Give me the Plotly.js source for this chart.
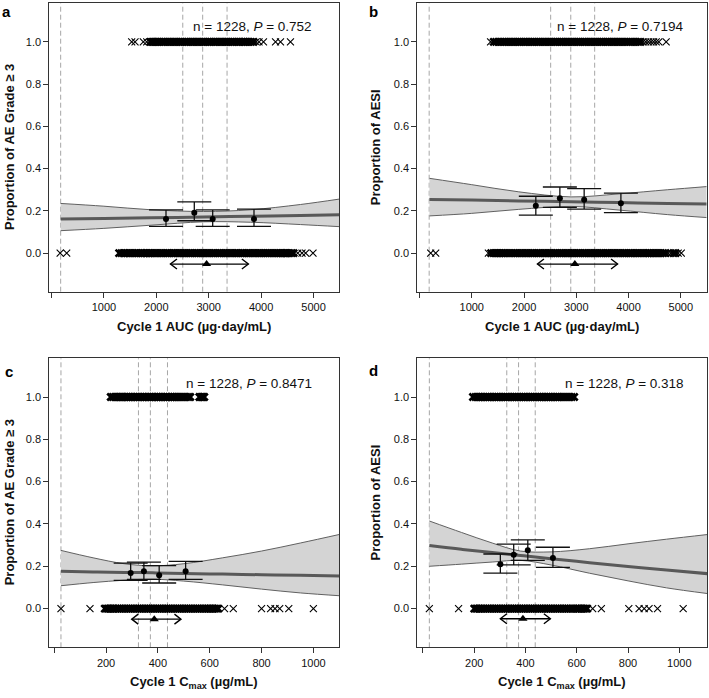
<!DOCTYPE html>
<html>
<head>
<meta charset="utf-8">
<script src="https://cdn.plot.ly/plotly-3.0.1.min.js"></script>
<style>html,body{margin:0;padding:0;background:#fff;}#chart{width:709px;height:698px;}</style>
</head>
<body>
<div id="chart"></div>
<script>
// ---------- tick labels ----------
const aucTicks = [1000, 2000, 3000, 4000, 5000];
const aucTickText = ['1000', '2000', '3000', '4000', '5000'];
const cmaxTicks = [200, 400, 600, 800, 1000];
const cmaxTickText = ['200', '400', '600', '800', '1000'];
const unlabelledTicks = [0];
const yTicks = [0, 0.2, 0.4, 0.6, 0.8, 1.0];

// ---------- panel a : AUC vs AE grade >= 3 ----------
const aEvent = [1530, 1594, 1752, 1817, 1885, 1912, 1940, 1965,
  1990, 2025, 2060, 2100, 2135, 2170, 2210, 2245, 2280, 2320, 2355, 2390, 2430, 2465, 2500, 2540, 2575, 2610,
  2650, 2685, 2720, 2760, 2795, 2830, 2870, 2905, 2940, 2980, 3015, 3050, 3090, 3125, 3160, 3200, 3235, 3270,
  3310, 3345, 3380, 3420, 3455, 3490, 3530, 3565, 3600, 3640, 3675, 3700,
  3735, 3770, 3810, 3855, 3905, 3960, 4045, 4275, 4370, 4560];
const aNoEvent = [165, 290, 1290, 1335, 1375, 1405, 1440, 1480, 1510, 1550, 1590, 1625, 1660, 1700, 1730, 1765, 1800, 1830, 1860,
  1885, 1920, 1960, 1995, 2030, 2070, 2105, 2140, 2180, 2215, 2250, 2290, 2325, 2360, 2400, 2435, 2470, 2510,
  2545, 2580, 2620, 2655, 2690, 2730, 2765, 2800, 2840, 2875, 2910, 2950, 2985, 3020, 3060, 3095, 3130, 3170,
  3205, 3240, 3280, 3315, 3350, 3390, 3425, 3460, 3500, 3535, 3570, 3610, 3645, 3680, 3720, 3755, 3790, 3830,
  3865, 3900, 3940, 3975, 4010, 4050, 4085, 4120, 4145,
  4185, 4225, 4265, 4300, 4335, 4370, 4400, 4425, 4450, 4475, 4500, 4540, 4580, 4620, 4700, 4780, 4850, 4990];
const aBinX = [2185, 2725, 3076, 3864];
const aBinP = [0.161, 0.191, 0.161, 0.161];
const aBinLo = [0.126, 0.153, 0.126, 0.126];
const aBinHi = [0.205, 0.242, 0.205, 0.208];
const aFitX = [175, 1000, 1900, 2900, 3800, 4750, 5500];
const aFit = [0.161, 0.164, 0.167, 0.171, 0.174, 0.178, 0.182];
const aFitHi = [0.235, 0.222, 0.205, 0.197, 0.205, 0.230, 0.256];
const aFitLo = [0.106, 0.117, 0.132, 0.148, 0.146, 0.135, 0.125];
const aQuantiles = [175, 2505, 2885, 3350];
const aMedian = 2960;
const aInterval = [2270, 3757];

// ---------- panel b : AUC vs AESI ----------
const bEvent = [1360, 1420, 1465, 1510, 1550, 1590, 1625, 1660, 1700, 1735, 1770, 1805, 1840, 1880, 1915, 1950, 1990, 2025, 2060, 2095,
  2130, 2165, 2200, 2240, 2275, 2310, 2350, 2385, 2420, 2460, 2495, 2530, 2570, 2605, 2640, 2680, 2715, 2750,
  2790, 2825, 2860, 2900, 2935, 2970, 3010, 3045, 3080, 3120, 3155, 3190, 3230, 3265, 3300, 3340, 3375, 3410,
  3450, 3485, 3520, 3560, 3595, 3630, 3670, 3705, 3740, 3780, 3815, 3850,
  3890, 3930, 3975, 4020, 4060, 4100, 4145, 4190, 4230, 4280, 4330, 4380, 4430, 4480, 4530, 4580, 4720];
const bNoEvent = [214, 310, 1318, 1370, 1415, 1450, 1480, 1510, 1540, 1570, 1605, 1640, 1680, 1720, 1760,
  1800, 1835, 1870, 1910, 1945, 1980, 2020, 2055, 2090, 2130, 2165, 2200, 2240, 2275, 2310, 2350, 2385, 2420,
  2460, 2495, 2530, 2570, 2605, 2640, 2680, 2715, 2750, 2790, 2825, 2860, 2900, 2935, 2970, 3010, 3045, 3080,
  3120, 3155, 3190, 3230, 3265, 3300, 3340, 3375, 3410, 3450, 3485, 3520, 3560, 3595, 3630, 3670, 3705, 3740,
  3780, 3815, 3850, 3890, 3925, 3960, 4000, 4035, 4070, 4110, 4145, 4175,
  4210, 4250, 4290, 4330, 4370, 4400, 4430, 4465, 4500, 4540, 4580, 4620, 4665, 4710, 4760, 4810, 4860, 4900, 4950, 5010];
const bBinX = [2226, 2686, 3151, 3854];
const bBinP = [0.224, 0.260, 0.252, 0.236];
const bBinLo = [0.180, 0.216, 0.208, 0.192];
const bBinHi = [0.269, 0.313, 0.305, 0.284];
const bFitX = [190, 1000, 1900, 2900, 3800, 4750, 5500];
const bFit = [0.254, 0.251, 0.247, 0.243, 0.239, 0.235, 0.232];
const bFitHi = [0.354, 0.324, 0.290, 0.266, 0.280, 0.300, 0.315];
const bFitLo = [0.176, 0.188, 0.207, 0.221, 0.204, 0.182, 0.168];
const bQuantiles = [185, 2510, 2895, 3352];
const bMedian = 2973;
const bInterval = [2257, 3790];

// ---------- panel c : Cmax vs AE grade >= 3 ----------
const cEvent = [218, 226, 234, 242, 250, 256,
  260, 266, 273, 280, 287, 294, 300, 307, 314, 321, 328, 334, 341, 348, 355, 362, 368, 375, 382, 389, 396,
  402, 409, 416, 423, 430, 436, 443, 450, 456,
  463, 470, 478, 486, 494, 502, 510, 518, 525, 560, 565, 570, 575, 579];
const cNoEvent = [26, 138, 195, 202, 208, 214, 220, 226,
  231, 238, 245, 252, 259, 266, 273, 280, 287, 294, 301, 308, 315, 322, 329, 336, 343, 350, 357, 364, 371,
  378, 385, 392, 399, 406, 413, 420, 427, 434, 441, 448, 455, 462, 469, 476, 483, 490, 497, 504, 511, 518,
  525, 532, 539, 546, 553, 560, 567, 574, 581, 588, 595,
  601, 607, 613, 619, 626, 633, 657, 691, 800, 835, 852, 870, 905, 1000];
const cBinX = [295, 346, 405, 507];
const cBinP = [0.168, 0.176, 0.157, 0.176];
const cBinLo = [0.133, 0.138, 0.121, 0.138];
const cBinHi = [0.215, 0.220, 0.203, 0.223];
const cFitX = [26, 150, 270, 380, 500, 650, 800, 950, 1110];
const cFit = [0.176, 0.173, 0.171, 0.169, 0.166, 0.163, 0.160, 0.157, 0.154];
const cFitHi = [0.275, 0.240, 0.212, 0.202, 0.212, 0.240, 0.272, 0.310, 0.353];
const cFitLo = [0.108, 0.123, 0.134, 0.139, 0.130, 0.112, 0.092, 0.074, 0.060];
const cQuantiles = [26, 325, 371, 437];
const cMedian = 386;
const cInterval = [299, 489];

// ---------- panel d : Cmax vs AESI ----------
const dEvent = [195, 205, 212, 218, 224, 231, 238, 245,
  252, 259, 266, 273, 280, 287, 294, 301, 308, 315, 322, 329, 336, 343, 350, 357, 364, 371, 378, 385, 392,
  399, 406, 413, 420, 427, 434, 441, 448, 455, 462, 469, 476, 483, 490, 497, 504, 511, 518, 525,
  532, 540, 548, 556, 564, 572, 580, 590];
const dNoEvent = [25, 139, 200, 206, 212, 218, 224,
  231, 238, 245, 252, 259, 266, 273, 280, 287, 294, 301, 308, 315, 322, 329, 336, 343, 350, 357, 364, 371,
  378, 385, 392, 399, 406, 413, 420, 427, 434, 441, 448, 455, 462, 469, 476, 483, 490, 497, 504, 511, 518,
  525, 532, 539, 546, 553, 560, 567, 574, 581, 588, 597,
  604, 610, 616, 622, 628, 634, 641, 662, 696, 803, 843, 863, 882, 915, 1015];
const dBinX = [302, 354, 409, 507];
const dBinP = [0.210, 0.254, 0.276, 0.239];
const dBinLo = [0.168, 0.207, 0.228, 0.195];
const dBinHi = [0.258, 0.305, 0.325, 0.290];
const dFitX = [25, 150, 270, 380, 500, 650, 800, 950, 1110];
const dFit = [0.298, 0.280, 0.265, 0.251, 0.236, 0.217, 0.199, 0.182, 0.165];
const dFitHi = [0.414, 0.360, 0.310, 0.272, 0.268, 0.283, 0.306, 0.328, 0.350];
const dFitLo = [0.200, 0.210, 0.220, 0.228, 0.206, 0.167, 0.131, 0.098, 0.071];
const dQuantiles = [25, 327, 373, 438];
const dMedian = 390;
const dInterval = [302, 497];

// ---------- texts ----------
const panelLetters = ['a', 'b', 'c', 'd'];
const statTexts = ['n = 1228, <i>P</i> = 0.752', 'n = 1228, <i>P</i> = 0.7194',
                   'n = 1228, <i>P</i> = 0.8471', 'n = 1228, <i>P</i> = 0.318'];
const yTitles = ['Proportion of AE Grade \u2265 3', 'Proportion of AESI',
                 'Proportion of AE Grade \u2265 3', 'Proportion of AESI'];
const xTitles = ['Cycle 1 AUC (\u00b5g\u00b7day/mL)', 'Cycle 1 AUC (\u00b5g\u00b7day/mL)',
                 'Cycle 1 C<sub>max</sub> (\u00b5g/mL)', 'Cycle 1 C<sub>max</sub> (\u00b5g/mL)'];

// ---------- layout geometry ----------
const W = 709, H = 698;
const FONT = 'Liberation Sans, Arial, Helvetica, sans-serif';
const boxes = [ // [left, right, top, bottom] in px
  [49.3, 339.3, 3.3, 291.7],
  [417.3, 706.5, 3.3, 291.7],
  [49.3, 339.3, 358.3, 647.3],
  [417.3, 707.0, 358.3, 647.3]
];
const xRanges = [[-42, 5492], [-42, 5492], [-19, 1100], [-22, 1108]];
const yRange = [-0.183, 1.183];

const panels = [
  {ev: aEvent, ne: aNoEvent, bx: aBinX, bp: aBinP, blo: aBinLo, bhi: aBinHi, fx: aFitX, f: aFit, fhi: aFitHi, flo: aFitLo, q: aQuantiles, med: aMedian, iv: aInterval, ay: -0.052, ticks: aucTicks, tt: aucTickText},
  {ev: bEvent, ne: bNoEvent, bx: bBinX, bp: bBinP, blo: bBinLo, bhi: bBinHi, fx: bFitX, f: bFit, fhi: bFitHi, flo: bFitLo, q: bQuantiles, med: bMedian, iv: bInterval, ay: -0.052, ticks: aucTicks, tt: aucTickText},
  {ev: cEvent, ne: cNoEvent, bx: cBinX, bp: cBinP, blo: cBinLo, bhi: cBinHi, fx: cFitX, f: cFit, fhi: cFitHi, flo: cFitLo, q: cQuantiles, med: cMedian, iv: cInterval, ay: -0.05, ticks: cmaxTicks, tt: cmaxTickText},
  {ev: dEvent, ne: dNoEvent, bx: dBinX, bp: dBinP, blo: dBinLo, bhi: dBinHi, fx: dFitX, f: dFit, fhi: dFitHi, flo: dFitLo, q: dQuantiles, med: dMedian, iv: dInterval, ay: -0.048, ticks: cmaxTicks, tt: cmaxTickText}
];

const traces = [];
const shapes = [];
const annotations = [];
const layout = {
  width: W, height: H,
  margin: {l: 0, r: 0, t: 0, b: 0},
  paper_bgcolor: '#ffffff', plot_bgcolor: '#ffffff',
  showlegend: false,
  font: {family: FONT, size: 11, color: '#111'}
};

// stroke widths: where crosses overlap densely they merge into a solid bar
function strokeWidths(xs, pxPerUnit) {
  return xs.map((v, j) => {
    const gaps = [];
    if (j > 0) gaps.push(Math.abs(v - xs[j - 1]) * pxPerUnit);
    if (j < xs.length - 1) gaps.push(Math.abs(xs[j + 1] - v) * pxPerUnit);
    const g = Math.min.apply(null, gaps);
    return g < 2.6 ? 2.6 : 1.1;
  });
}

panels.forEach((p, i) => {
  const k = i === 0 ? '' : String(i + 1);
  const xa = 'x' + k, ya = 'y' + k;
  const [L, R, T, B] = boxes[i];
  const ppu = (R - L) / (xRanges[i][1] - xRanges[i][0]);
  layout['xaxis' + k] = {
    domain: [L / W, R / W], range: xRanges[i], anchor: ya,
    showline: true, mirror: true, linecolor: '#333', linewidth: 1,
    ticks: 'outside', ticklen: 5, tickcolor: '#333', tickwidth: 1,
    tickvals: p.ticks, ticktext: p.tt, tickfont: {family: FONT, size: 11, color: '#111'},
    minor: {tickvals: unlabelledTicks, ticks: 'outside', ticklen: 5, tickcolor: '#333', tickwidth: 1, showgrid: false},
    showgrid: false, zeroline: false, fixedrange: true
  };
  layout['yaxis' + k] = {
    domain: [1 - B / H, 1 - T / H], range: yRange, anchor: xa,
    showline: true, mirror: true, linecolor: '#333', linewidth: 1,
    ticks: 'outside', ticklen: 5, tickcolor: '#333', tickwidth: 1,
    tickvals: yTicks, tickformat: '.1f', tickfont: {family: FONT, size: 11, color: '#111'},
    showgrid: false, zeroline: false, fixedrange: true
  };

  // quantile dashed lines
  p.q.forEach(v => shapes.push({
    type: 'line', xref: xa, yref: ya + ' domain', x0: v, x1: v, y0: 0, y1: 1,
    line: {color: '#a6a6a6', width: 1, dash: '5px,3px'}, layer: 'below'
  }));

  // confidence band
  traces.push({x: p.fx, y: p.flo, xaxis: xa, yaxis: ya, mode: 'lines',
    line: {color: '#606060', width: 1, shape: 'spline', smoothing: 1}, hoverinfo: 'skip'});
  traces.push({x: p.fx, y: p.fhi, xaxis: xa, yaxis: ya, mode: 'lines', fill: 'tonexty', fillcolor: '#d4d4d4',
    line: {color: '#606060', width: 1, shape: 'spline', smoothing: 1}, hoverinfo: 'skip'});
  // fit line
  traces.push({x: p.fx, y: p.f, xaxis: xa, yaxis: ya, mode: 'lines',
    line: {color: '#595959', width: 3, shape: 'spline', smoothing: 1}, hoverinfo: 'skip'});

  // observations
  traces.push({x: p.ev, y: p.ev.map(() => 1), xaxis: xa, yaxis: ya, mode: 'markers',
    marker: {symbol: 'x-thin-open', size: 7, color: '#000', line: {color: '#000', width: strokeWidths(p.ev, ppu)}},
    hoverinfo: 'skip'});
  traces.push({x: p.ne, y: p.ne.map(() => 0), xaxis: xa, yaxis: ya, mode: 'markers',
    marker: {symbol: 'x-thin-open', size: 7, color: '#000', line: {color: '#000', width: strokeWidths(p.ne, ppu)}},
    hoverinfo: 'skip'});

  // binned observed proportions
  traces.push({x: p.bx, y: p.bp, xaxis: xa, yaxis: ya, mode: 'markers',
    marker: {symbol: 'circle', size: 6, color: '#000'},
    error_y: {type: 'data', symmetric: false,
      array: p.bhi.map((h, j) => h - p.bp[j]), arrayminus: p.blo.map((l, j) => p.bp[j] - l),
      color: '#111', thickness: 1.3, width: 17},
    hoverinfo: 'skip'});

  // interval line with open chevron heads, median triangle
  traces.push({x: p.iv, y: p.iv.map(() => p.ay), xaxis: xa, yaxis: ya, mode: 'lines',
    line: {color: '#000', width: 1.3}, hoverinfo: 'skip'});
  shapes.push({type: 'path', xref: xa, yref: ya, xsizemode: 'pixel', ysizemode: 'pixel',
    xanchor: p.iv[0], yanchor: p.ay, path: 'M 6.5 5 L 0 0 L 6.5 -5', line: {color: '#000', width: 1.4}});
  shapes.push({type: 'path', xref: xa, yref: ya, xsizemode: 'pixel', ysizemode: 'pixel',
    xanchor: p.iv[1], yanchor: p.ay, path: 'M -6.5 5 L 0 0 L -6.5 -5', line: {color: '#000', width: 1.4}});
  traces.push({x: [p.med], y: [p.ay], xaxis: xa, yaxis: ya, mode: 'markers',
    marker: {symbol: 'triangle-up', size: 8, color: '#000'}, hoverinfo: 'skip'});

  // stat text
  annotations.push({xref: xa + ' domain', yref: ya + ' domain', x: i % 2 === 0 ? 0.912 : 0.929,
    y: i < 2 ? 0.918 : 0.913, xanchor: 'right', yanchor: 'middle', showarrow: false,
    text: statTexts[i], font: {family: FONT, size: 13.5, color: '#111'}});

  // panel letter
  const letterPos = [[0, 11.5], [367, 11.5], [3, 371], [366.5, 370.5]][i];
  annotations.push({xref: 'paper', yref: 'paper', x: letterPos[0] / W, y: 1 - letterPos[1] / H,
    xanchor: 'left', yanchor: 'middle', showarrow: false, text: '<b>' + panelLetters[i] + '</b>',
    font: {family: FONT, size: 15, color: '#000'}});

  // axis titles
  const xtY = i < 2 ? 326.7 : 682.5;
  annotations.push({xref: 'paper', yref: 'paper', x: (L + R) / 2 / W, y: 1 - xtY / H,
    xanchor: 'center', yanchor: 'middle', showarrow: false, text: '<b>' + xTitles[i] + '</b>',
    font: {family: FONT, size: 13, color: '#111'}});
  const ytX = i % 2 === 0 ? 9.5 : 375.7;
  annotations.push({xref: 'paper', yref: 'paper', x: ytX / W, y: 1 - (T + B) / 2 / H,
    xanchor: 'center', yanchor: 'middle', textangle: -90, showarrow: false, text: '<b>' + yTitles[i] + '</b>',
    font: {family: FONT, size: 13, color: '#111'}});
});

layout.shapes = shapes;
layout.annotations = annotations;

Plotly.newPlot('chart', traces, layout, {displayModeBar: false, staticPlot: true});
</script>
</body>
</html>
